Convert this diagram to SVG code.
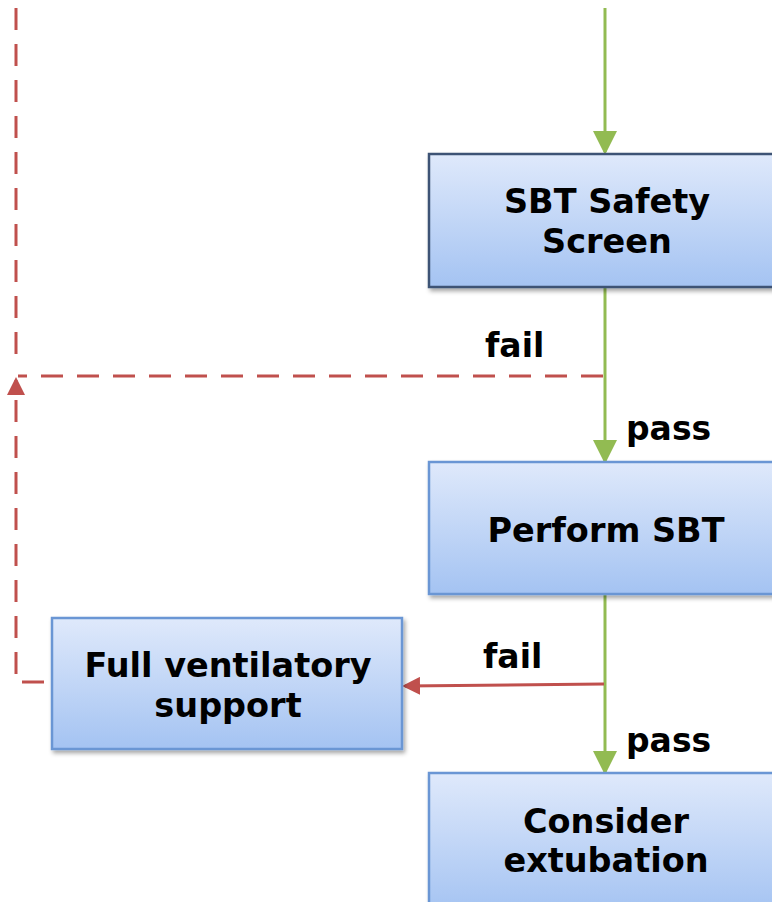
<svg xmlns="http://www.w3.org/2000/svg" width="772" height="902" viewBox="0 0 772 902">
<defs>
<linearGradient id="g" x1="0" y1="0" x2="0" y2="1">
<stop offset="0" stop-color="#dfe9fb"/>
<stop offset="1" stop-color="#a4c3f2"/>
</linearGradient>
<filter id="sh" x="-5%" y="-5%" width="115%" height="120%">
<feDropShadow dx="2" dy="3" stdDeviation="2" flood-color="#000" flood-opacity="0.35"/>
</filter>
<marker id="ag" markerWidth="8" markerHeight="8" refX="7" refY="4" orient="auto" markerUnits="strokeWidth">
<path d="M0,0 L8,4 L0,8 z" fill="#92bb52"/>
</marker>
<marker id="ar" markerWidth="6" markerHeight="6" refX="5" refY="3" orient="auto" markerUnits="strokeWidth">
<path d="M0,0 L6,3 L0,6 z" fill="#c0504d"/>
</marker>
</defs>
<style>
.box{fill:url(#g);stroke:#6a96d4;stroke-width:2.5;filter:url(#sh)}
.t{font-family:"DejaVu Sans",Verdana,sans-serif;font-weight:bold;font-size:33.5px;fill:#000;text-anchor:middle}
.l{font-family:"DejaVu Sans",Verdana,sans-serif;font-weight:bold;font-size:33px;fill:#000}
.green{stroke:#92bb52;stroke-width:3;fill:none}
.red{stroke:#c0504d;stroke-width:3;fill:none}
.dash{stroke-dasharray:22 14}
</style>
<g id="connectors">
<path class="green" d="M605,8 V152" marker-end="url(#ag)"/>
<path class="green" d="M605,288 V461" marker-end="url(#ag)"/>
<path class="green" d="M605,595 V772" marker-end="url(#ag)"/>
<path class="red dash" d="M603,376 H18"/>
<path class="red dash" d="M16,8 V364"/>
<path class="red dash" d="M44,682 H16 V380" marker-end="url(#ar)"/>
<path class="red" d="M604,684 L405,686" marker-end="url(#ar)"/>
<text class="l" x="485" y="357">fail</text>
<text class="l" x="626" y="440">pass</text>
<text class="l" x="483" y="668">fail</text>
<text class="l" x="626" y="752">pass</text>
</g>
<g id="sbt-safety-screen">
<rect class="box" x="429" y="154" width="360" height="133" style="stroke:#3e5375"/>
<text class="t" x="607" y="213">SBT Safety</text>
<text class="t" x="607" y="253">Screen</text>
</g>
<g id="perform-sbt">
<rect class="box" x="429" y="462" width="360" height="132"/>
<text class="t" x="606" y="542">Perform SBT</text>
</g>
<g id="full-ventilatory-support">
<rect class="box" x="52" y="618" width="350" height="131"/>
<text class="t" x="228" y="677">Full ventilatory</text>
<text class="t" x="228" y="717">support</text>
</g>
<g id="consider-extubation">
<rect class="box" x="429" y="773" width="360" height="140"/>
<text class="t" x="606" y="833">Consider</text>
<text class="t" x="606" y="872">extubation</text>
</g>
</svg>
